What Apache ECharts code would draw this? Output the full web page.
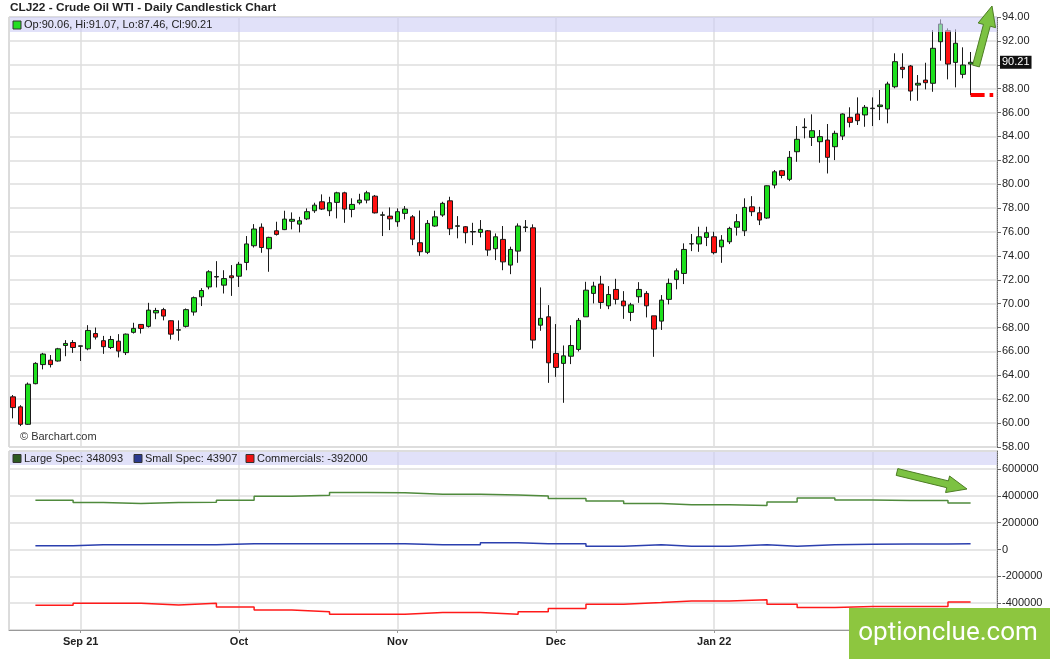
<!DOCTYPE html>
<html>
<head>
<meta charset="utf-8">
<title>CLJ22 - Crude Oil WTI - Daily Candlestick Chart</title>
<script src="https://cdn.jsdelivr.net/npm/echarts@6/dist/echarts.min.js"></script>
<style>
	html, body { margin: 0; padding: 0; background: #fff; }
	#chart { width: 1050px; height: 659px; }
</style>
</head>
<body>
<div id="chart"></div>
<script>
var chartTitle = 'CLJ22 - Crude Oil WTI - Daily Candlestick Chart';
var firstDay = '2021-08-19';
var holidays = ['2021-09-06', '2021-11-25', '2021-12-24', '2021-12-31'];
var blankDays = 3;
var monthNames = ['Jan', 'Feb', 'Mar', 'Apr', 'May', 'Jun', 'Jul', 'Aug', 'Sep', 'Oct', 'Nov', 'Dec'];

// daily OHLC
var openP = [62.20, 61.36, 59.90, 63.30, 64.90, 65.27, 65.20, 66.50, 66.75, 66.43,
	66.22, 67.50, 66.90, 66.33, 66.86, 65.90, 67.60, 68.26, 68.10, 69.23,
	69.50, 68.57, 67.78, 68.10, 69.30, 70.57, 71.40, 72.23, 71.55, 72.33,
	72.30, 73.45, 74.85, 76.40, 74.60, 76.10, 76.20, 76.90, 76.66, 77.10,
	77.78, 78.53, 77.78, 78.48, 79.28, 77.89, 78.45, 78.67, 79.00, 77.40,
	77.33, 76.86, 77.56, 77.27, 75.10, 74.30, 76.50, 77.42, 78.61, 76.48,
	76.44, 76.00, 75.97, 76.10, 74.60, 75.38, 73.23, 74.40, 76.37, 76.35,
	68.20, 68.90, 65.83, 65.00, 65.60, 66.17, 68.90, 70.86, 71.64, 69.82,
	71.19, 70.22, 69.27, 70.58, 70.86, 68.98, 68.54, 70.36, 72.03, 72.53,
	75.00, 75.00, 75.55, 75.60, 74.76, 75.18, 76.40, 76.10, 78.11, 77.61,
	77.17, 79.93, 81.13, 80.41, 82.72, 84.74, 83.92, 83.56, 83.70, 83.14,
	84.03, 85.60, 85.88, 85.80, 86.33, 86.50, 86.30, 88.16, 89.79, 89.90,
	88.30, 88.72, 88.45, 91.93, 92.85, 90.20, 89.20, 90.06];
var closeP = [61.30, 59.90, 63.26, 65.00, 65.78, 64.90, 66.22, 66.67, 66.33, 66.47,
	67.76, 67.20, 66.40, 67.00, 66.03, 67.45, 67.93, 67.93, 69.46, 69.43,
	68.96, 67.45, 67.82, 69.50, 70.50, 71.10, 72.67, 72.27, 72.10, 72.17,
	73.30, 75.00, 76.25, 74.70, 75.55, 75.80, 77.08, 77.06, 76.94, 77.70,
	78.25, 77.92, 78.45, 79.28, 77.92, 78.31, 78.67, 79.28, 77.60, 77.44,
	77.10, 77.70, 77.92, 75.40, 74.35, 76.72, 77.27, 78.40, 76.27, 76.52,
	75.94, 76.04, 76.22, 74.49, 75.60, 73.50, 74.54, 76.50, 76.42, 66.95,
	68.77, 65.05, 64.66, 65.63, 66.50, 68.60, 71.13, 71.47, 70.10, 70.77,
	70.36, 69.82, 69.90, 71.19, 69.82, 67.87, 70.30, 71.70, 72.75, 74.54,
	75.02, 75.60, 75.94, 74.27, 75.32, 76.30, 76.86, 78.06, 77.70, 77.00,
	79.87, 81.04, 80.74, 82.25, 83.76, 84.78, 84.48, 83.98, 82.25, 84.26,
	85.88, 85.18, 85.32, 86.44, 86.37, 86.63, 88.39, 90.26, 89.62, 87.80,
	88.45, 88.50, 91.38, 93.41, 90.06, 91.80, 89.98, 90.21];
var lowP = [60.40, 59.75, 59.85, 63.25, 64.50, 64.66, 65.15, 65.60, 65.88, 65.20,
	66.10, 67.00, 65.80, 66.20, 65.50, 65.70, 67.50, 67.50, 68.00, 68.70,
	68.60, 67.00, 66.90, 68.00, 69.00, 69.80, 71.20, 71.36, 70.85, 70.65,
	71.40, 72.80, 74.70, 74.26, 72.67, 75.70, 76.16, 76.22, 75.97, 77.00,
	77.60, 77.84, 77.33, 77.14, 76.77, 77.23, 78.30, 78.40, 77.55, 75.66,
	76.16, 76.44, 77.06, 74.90, 74.00, 74.15, 76.44, 77.27, 75.74, 75.47,
	75.05, 74.90, 75.55, 74.00, 73.65, 72.80, 72.47, 73.42, 76.00, 66.25,
	67.73, 63.37, 63.87, 61.70, 64.94, 66.00, 68.90, 70.02, 69.57, 69.54,
	69.94, 68.73, 68.54, 70.07, 68.85, 65.55, 67.80, 69.94, 71.20, 71.64,
	74.40, 74.34, 74.82, 74.13, 73.42, 74.99, 75.70, 75.66, 77.33, 76.58,
	77.10, 79.65, 80.50, 80.26, 81.88, 83.84, 83.20, 81.80, 80.90, 82.02,
	83.70, 84.76, 84.96, 84.81, 84.87, 85.37, 85.10, 88.03, 88.87, 86.99,
	86.99, 87.94, 87.74, 90.34, 88.78, 88.11, 88.87, 87.46];
var highP = [62.35, 61.50, 63.40, 65.10, 65.88, 65.70, 66.30, 66.95, 66.95, 66.50,
	68.20, 68.00, 67.30, 67.30, 67.45, 67.50, 68.40, 68.30, 70.07, 69.65,
	69.65, 68.60, 68.60, 69.60, 70.60, 71.30, 72.80, 73.56, 72.80, 73.23,
	73.50, 75.66, 76.66, 76.72, 75.60, 76.86, 77.78, 77.64, 77.27, 77.98,
	78.45, 79.15, 78.95, 79.37, 79.37, 78.82, 79.20, 79.45, 79.10, 77.70,
	78.06, 77.98, 78.17, 77.42, 77.80, 77.00, 77.78, 78.53, 78.95, 77.33,
	76.50, 76.77, 77.00, 76.16, 75.88, 76.50, 74.77, 76.72, 77.00, 76.64,
	71.36, 69.88, 68.29, 66.50, 68.20, 68.80, 71.83, 71.83, 72.33, 71.47,
	72.08, 71.05, 70.07, 71.80, 71.05, 68.98, 70.72, 72.10, 72.95, 75.05,
	75.83, 76.44, 76.44, 76.02, 75.74, 76.44, 77.50, 78.82, 79.00, 78.11,
	79.90, 81.19, 81.20, 82.78, 84.87, 85.52, 85.85, 84.54, 85.04, 84.48,
	85.93, 86.44, 87.27, 86.63, 87.27, 87.89, 88.58, 90.96, 90.96, 89.98,
	89.14, 90.17, 92.91, 93.80, 93.05, 92.97, 91.46, 91.07];

// weekly commitments of traders, held until the next report
var cotDates = ['2021-08-24', '2021-08-31', '2021-09-07', '2021-09-14', '2021-09-21', '2021-09-28',
	'2021-10-05', '2021-10-12', '2021-10-19', '2021-10-26', '2021-11-02', '2021-11-09',
	'2021-11-16', '2021-11-23', '2021-11-30', '2021-12-07', '2021-12-14', '2021-12-21',
	'2021-12-28', '2022-01-05', '2022-01-12', '2022-01-18', '2022-01-25', '2022-02-01',
	'2022-02-08', '2022-02-15'];
var largeSpec = [368000, 350000, 343000, 350000, 352000, 368000, 398000, 405000, 425000, 424000,
	412000, 412000, 407000, 400000, 380000, 362000, 343000, 335000, 335000, 328000,
	355000, 385000, 370000, 366000, 366000, 348093];
var smallSpec = [28000, 35000, 35000, 35000, 35000, 43000, 43000, 43000, 43000, 43000,
	35000, 35000, 50000, 43000, 43000, 25000, 35000, 25000, 25000, 35000,
	25000, 35000, 40000, 42000, 42000, 43907];
var commercials = [-415000, -400000, -400000, -413000, -400000, -428000, -450000, -463000, -483000, -483000,
	-470000, -470000, -483000, -463000, -440000, -408000, -395000, -383000, -383000, -375000,
	-408000, -433000, -425000, -425000, -425000, -392000];

function tradingDays(start, count, skip) {
	var out = [];
	var d = new Date(start + 'T00:00:00Z');
	while (out.length < count) {
		var s = d.toISOString().slice(0, 10);
		var wd = d.getUTCDay();
		if (wd != 0 && wd != 6 && skip.indexOf(s) < 0) {
			out.push(s);
		}
		d.setUTCDate(d.getUTCDate() + 1);
	}
	return out;
}

var days = tradingDays(firstDay, openP.length + blankDays, holidays);
var last = openP.length - 1;

function isMonthStart(i) {
	return i > 0 && i <= last && days[i].slice(5, 7) != days[i - 1].slice(5, 7);
}

function monthTick(index) {
	return isMonthStart(index);
}

function monthLabel(value) {
	var m = parseInt(value.slice(5, 7), 10) - 1;
	var yy = value.slice(2, 4);
	if (m == 0 || (m == 8 && value.slice(0, 4) == '2021')) {
		return monthNames[m] + ' ' + yy;
	}
	return monthNames[m];
}

function candles() {
	var out = [];
	for (var i = 0; i < openP.length; i++) {
		out.push([openP[i], closeP[i], lowP[i], highP[i]]);
	}
	return out;
}

function steps(values) {
	var out = [];
	for (var i = 0; i < cotDates.length; i++) {
		out.push([cotDates[i], values[i]]);
	}
	out.push([days[last], values[values.length - 1]]);
	return out;
}

function arrow(x1, y1, x2, y2, sw, hw, hl) {
	var dx = x2 - x1, dy = y2 - y1;
	var len = Math.sqrt(dx * dx + dy * dy);
	var ux = dx / len, uy = dy / len, px = -uy, py = ux;
	var bx = x2 - ux * hl, by = y2 - uy * hl;
	return [
		[x1 + px * sw / 2, y1 + py * sw / 2],
		[bx + px * sw / 2, by + py * sw / 2],
		[bx + px * hw / 2, by + py * hw / 2],
		[x2, y2],
		[bx - px * hw / 2, by - py * hw / 2],
		[bx - px * sw / 2, by - py * sw / 2],
		[x1 - px * sw / 2, y1 - py * sw / 2]
	];
}

var font = 'Liberation Sans, Arial, sans-serif';
var gridLine = { color: '#dedede', width: 1.5 };

function legendItem(x, y, color, text) {
	return [{
		type: 'rect', z: 20,
		shape: { x: x, y: y - 4, width: 8, height: 8 },
		style: { fill: color, stroke: '#333', lineWidth: 1 }
	}, {
		type: 'text', z: 20, x: x + 11, y: y,
		style: { text: text, fill: '#222', font: '11px ' + font, verticalAlign: 'middle' }
	}];
}

var chart = echarts.init(document.getElementById('chart'));

var graphics = [
	{ type: 'text', x: 10, y: 8, style: { text: chartTitle, fill: '#222', font: 'bold 11.8px ' + font, verticalAlign: 'middle' } },
	{ type: 'rect', z: 15, shape: { x: 10, y: 17, width: 987, height: 15 }, style: { fill: 'rgba(205,205,245,0.6)' } },
	{ type: 'rect', z: 15, shape: { x: 10, y: 452, width: 987, height: 13 }, style: { fill: 'rgba(205,205,245,0.6)' } },
	{ type: 'text', z: 20, x: 20, y: 437, style: { text: '\u00a9 Barchart.com', fill: '#333', font: '11px ' + font, verticalAlign: 'middle' } },
	{ type: 'polygon', z: 30, shape: { points: arrow(976, 66, 992, 6, 7, 18, 20) }, style: { fill: '#7cc242', stroke: '#4d7d25', lineWidth: 1 } },
	{ type: 'polygon', z: 30, shape: { points: arrow(897, 472, 967, 489, 7, 17, 20) }, style: { fill: '#7cc242', stroke: '#4d7d25', lineWidth: 1 } },
	{ type: 'rect', z: 40, shape: { x: 849, y: 608, width: 201, height: 51 }, style: { fill: '#8dc63f' } },
	{ type: 'text', z: 41, x: 948, y: 633, style: { text: 'optionclue.com', fill: '#fff', font: '26px Roboto, ' + font, align: 'center', verticalAlign: 'middle' } }
];
graphics = graphics.concat(
	legendItem(13, 25, '#22dd22', 'Op:' + openP[last].toFixed(2) + ', Hi:' + highP[last].toFixed(2) +
		', Lo:' + lowP[last].toFixed(2) + ', Cl:' + closeP[last].toFixed(2)),
	legendItem(13, 458.5, '#2d5a22', 'Large Spec: ' + largeSpec[largeSpec.length - 1]),
	legendItem(134, 458.5, '#2b3a8f', 'Small Spec: ' + smallSpec[smallSpec.length - 1]),
	legendItem(246, 458.5, '#ee1111', 'Commercials: ' + commercials[commercials.length - 1])
);

chart.setOption({
	animation: false,
	backgroundColor: '#fff',
	textStyle: { fontFamily: font },
	grid: [
		{ left: 9, right: 53, top: 17, height: 430, show: true, borderColor: '#b8b8b8', borderWidth: 1 },
		{ left: 9, right: 53, top: 451, height: 179, show: true, borderColor: '#b8b8b8', borderWidth: 1 }
	],
	xAxis: [{
		type: 'category', gridIndex: 0, data: days,
		axisLine: { show: false, onZero: false }, axisTick: { show: false }, axisLabel: { show: false },
		splitLine: { show: true, interval: monthTick, alignWithLabel: true, lineStyle: gridLine }
	}, {
		type: 'category', gridIndex: 1, data: days,
		axisLine: { show: true, onZero: false, lineStyle: { color: '#999' } },
		axisTick: { show: true, interval: monthTick, alignWithLabel: true, length: 3, lineStyle: { color: '#999' } },
		axisLabel: { interval: monthTick, formatter: monthLabel, fontWeight: 'bold', fontSize: 11, color: '#222', margin: 6 },
		splitLine: { show: true, interval: monthTick, alignWithLabel: true, lineStyle: gridLine }
	}],
	yAxis: [{
		type: 'value', gridIndex: 0, position: 'right', min: 58, max: 94, interval: 2,
		axisLine: { show: true, lineStyle: { color: '#666', type: 'dotted' } },
		axisTick: { show: true, length: 4, lineStyle: { color: '#666' } },
		axisLabel: { fontSize: 11, color: '#222', margin: 5, formatter: function(v) { return v.toFixed(2); } },
		splitLine: { lineStyle: gridLine }
	}, {
		type: 'value', gridIndex: 1, position: 'right', min: -600000, max: 735000, interval: 200000,
		axisLine: { show: true, lineStyle: { color: '#666', type: 'dotted' } },
		axisTick: { show: true, length: 4, lineStyle: { color: '#666' } },
		axisLabel: { fontSize: 11, color: '#222', margin: 5, showMaxLabel: false, formatter: function(v) { return String(v); } },
		splitLine: { lineStyle: gridLine }
	}],
	series: [{
		name: 'CLJ22',
		type: 'candlestick',
		xAxisIndex: 0, yAxisIndex: 0,
		barWidth: 5,
		data: candles(),
		itemStyle: {
			color: '#1de01d', color0: '#ff1010',
			borderColor: '#1a1a1a', borderColor0: '#1a1a1a', borderWidth: 1
		},
		markLine: {
			silent: true,
			symbol: ['none', 'none'],
			data: [
				{
					yAxis: closeP[last],
					lineStyle: { color: 'transparent', width: 0 },
					label: {
						show: true, position: 'end', distance: 3,
						formatter: closeP[last].toFixed(2),
						color: '#fff', backgroundColor: '#111', padding: [1, 2, 1, 2], fontSize: 11
					}
				},
				[
					{ coord: [last, lowP[last]], lineStyle: { color: '#ff0000', width: 4, type: [14, 5] }, label: { show: false } },
					{ coord: [last + blankDays, lowP[last]] }
				]
			]
		}
	}, {
		name: 'Large Spec', type: 'line', step: 'end', xAxisIndex: 1, yAxisIndex: 1,
		symbol: 'none', data: steps(largeSpec), lineStyle: { color: '#4f8a3c', width: 1.5 }
	}, {
		name: 'Small Spec', type: 'line', step: 'end', xAxisIndex: 1, yAxisIndex: 1,
		symbol: 'none', data: steps(smallSpec), lineStyle: { color: '#2b3fae', width: 1.5 }
	}, {
		name: 'Commercials', type: 'line', step: 'end', xAxisIndex: 1, yAxisIndex: 1,
		symbol: 'none', data: steps(commercials), lineStyle: { color: '#ff1a1a', width: 1.5 }
	}],
	graphic: graphics
});
</script>
</body>
</html>
